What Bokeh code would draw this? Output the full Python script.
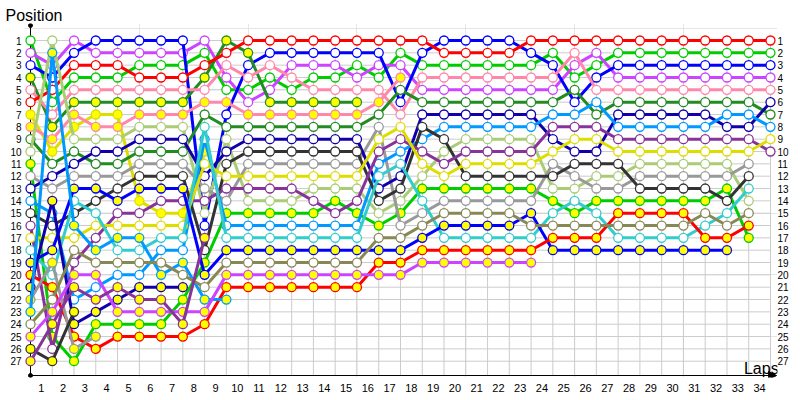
from bokeh.plotting import figure
from bokeh.models import Range1d, LinearAxis, FixedTicker, Label, Arrow, NormalHead
from bokeh.embed import file_html
from bokeh.resources import INLINE

# ---------------- data ----------------
LAPS = list(range(0, 35))                 # lap 0 = grid
LAP_LABELS = [str(k) for k in range(1, 35)]
POSITIONS = list(range(1, 28))

R_W = [6,5,3,3,3,4,4,4,3,2,1,1,1,1,1,1,1,1,1,2,2,2,2,1,1,1,1,1,1,1,1,1,1,1,1]
G_W = [1,6,4,4,4,3,3,3,2,5,5,4,5,4,4,3,4,2,3,3,3,3,3,3,2,4,3,2,2,2,2,2,2,2,2]
B_W = [3,4,2,1,1,1,1,1,16,7,3,2,2,2,2,2,2,6,2,1,1,1,1,2,3,6,4,3,3,3,3,3,3,3,3]
M_W = [2,3,1,2,2,2,2,2,1,4,6,5,3,3,3,4,3,3,5,5,5,5,5,5,5,3,2,4,4,4,4,4,4,4,4]
P_W = [5,7,5,5,5,5,5,5,5,3,4,3,4,5,5,5,5,7,4,4,4,4,4,4,4,2,5,5,5,5,5,5,5,5,5]
DG_Y = [4,8,6,6,6,6,6,6,4,1,2,6,6,6,6,6]
Y_Y = [7,10,8,7,7,14,15,15,10]
P_Y = [8,9,7,8,8,7,7,7,6,6,7,7,7,7,7,7,6,4]
DG_W = [9,11,10,11,11,10,10,10,7,8,8,8,8,8,8,8,7,5,6,6,6,6,6,6,6,5,7,6,6,6,6,6,6,6,7]
LG_W = [10,1,9,9,9,8,8,8,15,9,14,14,14,13,13,13,15,14,12,10,9,9,9,9,13,13,12,12,11,11,11,11,11,14]
G_Y = [11,25,27,24,24,24,24,22,19,15,15,15,15,15,14,15,16,15,13,13,13,13,13,13,14,15,14,14,14,14,14,14,13,17]
GR_W = [12,13,12,12,12,11,11,11,13,14,11,11,11,11,11,11,8,16,15,14,14,14,14,14,11,12,13,13,12,12,12,12,12,11]
N_W = [13,12,11,10,10,9,9,9,12,10,9,9,9,9,9,9,13,12,7,7,7,7,7,7,9,10,10,7,7,7,7,7,8,8,6]
LB_W = [14,15,22,21,20,20,18,18,9,16,16,16,16,16,16,16,11,10,9,8,8,8,8,8,7,7,6,8,8,8,8,8,7,7,8]
DK_W = [15,16,15,14,13,12,12,12,18,11,10,10,10,10,10,10,14,13,8,9,12,12,12,12,12,11,11,11,13,13,13,13,14,12]
PU_W = [16,26,19,17,15,15,14,14,14,13,13,13,13,14,15,14,10,9,10,11,10,10,10,10,8,8,8,9,9,9,9,9,9,9,10]
Y_W = [17,17,17,16,16,16,16,16,11,12,12,12,12,12,12,12,9,8,11,12,11,11,11,11,10,9,9,10,10,10,10,10,10,10,9]
C_W = [18,20,14,15,18,18,17,17,8,17,17,17,17,17,17,17,12,11,14,17,17,17,17,17,15,14,15,17,17,17,17,16,15,13]
B_Y = [19,18,13,13,14,13,13,13,20,18,18,18,18,18,18,18,18,18,17,16,16,16,16,15,18,18,18,18,18,18,18,18,18]
R_Y = [20,21,25,26,25,25,25,25,24,21,21,21,21,21,21,21,19,19,18,18,18,18,18,18,17,17,17,15,15,15,15,17,17,16]
N_Y = [21,14,24,23,22,21,21,21]
GR_Y = [22,19,26,25]
LB_Y = [23,2,16,18,17,17,20,19,22,22]
O_W = [24,22,18,19,19,19,19,20,21,19,19,19,19,19,19,19,17,17,16,15,15,15,15,16,16,16,16,16,16,16,16,15,16,15]
M_Y = [25,23,20,20,23,23,23,23,23,20,20,20,20,20,20,20,20,20,19,19,19,19,19,19]
DK_Y = [26,27,23]
PU_Y = [27,24,21,22,21,22,22,24,17]

# ---------------- styles ----------------
RED, GREEN, BLUE, MAGENTA = "#ff0000", "#00cc00", "#0000ff", "#cc44ff"
PINK, DKGREEN, YELLOW, LTGREEN = "#ff88aa", "#228b22", "#dddd00", "#aacc77"
GRAY, NAVY, LTBLUE, DKGRAY = "#999999", "#1100aa", "#0099ff", "#333333"
PURPLE, CYAN, OLIVE = "#883399", "#33cccc", "#888855"
WHITE, YFILL = "#ffffff", "#ffff00"

DRIVERS = [
    (G_W, GREEN, WHITE), (M_W, MAGENTA, WHITE), (B_W, BLUE, WHITE), (DG_Y, DKGREEN, YFILL),
    (P_W, PINK, WHITE), (R_W, RED, WHITE), (Y_Y, YELLOW, YFILL), (P_Y, PINK, YFILL),
    (DG_W, DKGREEN, WHITE), (LG_W, LTGREEN, WHITE), (G_Y, GREEN, YFILL), (GR_W, GRAY, WHITE),
    (N_W, NAVY, WHITE), (LB_W, LTBLUE, WHITE), (DK_W, DKGRAY, WHITE), (PU_W, PURPLE, WHITE),
    (Y_W, YELLOW, WHITE), (C_W, CYAN, WHITE), (B_Y, BLUE, YFILL), (R_Y, RED, YFILL),
    (N_Y, NAVY, YFILL), (GR_Y, GRAY, YFILL), (LB_Y, LTBLUE, YFILL), (O_W, OLIVE, WHITE),
    (M_Y, MAGENTA, YFILL), (DK_Y, DKGRAY, YFILL), (PU_Y, PURPLE, YFILL),
]

FONT = "Liberation Sans"
# geometry: lap k -> 30 + 21.765k px, position p -> 40 + 12.335(p-1) px
X0, X1 = -0.2757, 34.322
Y_TOP, Y_BOT = -0.3782, 28.3205     # frame from y=23 px to y=377 px
AX_Y = 28.1585
AX_TOP = -0.216

p = figure(width=800, height=400, output_backend="svg", toolbar_location=None,
           x_range=Range1d(X0, X1), y_range=Range1d(Y_BOT, Y_TOP),
           x_axis_location=None, y_axis_location=None,
           min_border_left=24, min_border_right=23, min_border_top=23, min_border_bottom=23)
p.outline_line_color = None
p.background_fill_color = "white"
p.border_fill_color = "white"

# title used as the y-axis caption "Position"
p.title.text = "Position"
p.title.align = "left"
p.title.offset = -19
p.title.standoff = 0
p.title.text_font = FONT
p.title.text_font_size = "16px"
p.title.text_font_style = "normal"
p.title.text_color = "black"

# grid
last = LAPS[-1]
p.segment(x0=[LAPS[0]] * len(POSITIONS), y0=POSITIONS, x1=[last] * len(POSITIONS), y1=POSITIONS,
          line_color="#cccccc", line_width=1)
p.segment(x0=LAPS[1:], y0=[POSITIONS[0]] * (len(LAPS) - 1), x1=LAPS[1:], y1=[AX_Y] * (len(LAPS) - 1),
          line_color="#cccccc", line_width=1)

# axes lines
p.segment(x0=[0], y0=[AX_TOP], x1=[0], y1=[AX_Y], line_color="black", line_width=1)
p.add_layout(Arrow(x_start=0, y_start=AX_Y, x_end=34.28, y_end=AX_Y, line_color="black", line_width=1,
                   end=NormalHead(size=8, fill_color="black", line_color="black")))
p.scatter([0, 0], [AX_TOP, AX_Y], size=4, color="black")

# drivers
for series, color, fill in DRIVERS:
    xs = LAPS[:len(series)]
    p.line(xs, series, line_color=color, line_width=3)
    p.scatter(xs, series, marker="circle", size=9, fill_color=fill, line_color=color, line_width=1.3)

# tick labels through axes
def style(ax, size, standoff):
    ax.axis_line_color = None
    ax.major_tick_line_color = None
    ax.minor_tick_line_color = None
    ax.major_tick_in = 0
    ax.major_tick_out = 0
    ax.minor_tick_in = 0
    ax.minor_tick_out = 0
    ax.major_label_text_font = FONT
    ax.major_label_text_font_size = size
    ax.major_label_text_color = "black"
    ax.major_label_standoff = standoff

xticks = [i + 0.5 for i in range(len(LAP_LABELS))]
xax = LinearAxis(ticker=FixedTicker(ticks=xticks),
                 major_label_overrides={t: lab for t, lab in zip(xticks, LAP_LABELS)})
style(xax, "11px", 6)
p.add_layout(xax, "below")

yl = LinearAxis(ticker=FixedTicker(ticks=POSITIONS))
style(yl, "10px", 3)
p.add_layout(yl, "left")
yr = LinearAxis(ticker=FixedTicker(ticks=POSITIONS))
style(yr, "10px", 0)
yr.major_label_text_align = "left"
p.add_layout(yr, "right")

p.add_layout(Label(x=32.78, y=27.6, text="Laps", text_font=FONT, text_font_size="16px",
                   text_baseline="alphabetic", text_align="left", text_color="black"))

open("out.html", "w").write(file_html(p, INLINE))
